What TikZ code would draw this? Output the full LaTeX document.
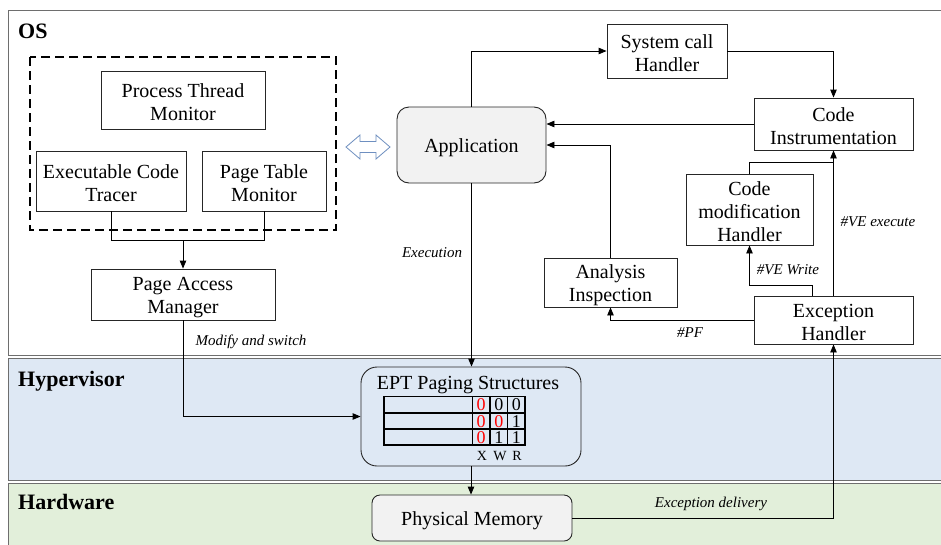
\documentclass[tikz,border=0pt]{standalone}
\usepackage{fontspec}
\setmainfont{Liberation Serif}
\usetikzlibrary{arrows.meta}
\definecolor{hypfill}{HTML}{DEE8F4}
\definecolor{hwfill}{HTML}{E2EFDA}
\definecolor{appfill}{HTML}{F2F2F2}
\definecolor{panelline}{HTML}{6E6E6E}
\definecolor{dblarrow}{HTML}{6E8FC0}
% taller first line, so box texts sit a little lower
\newcommand\firstline{\rule{0pt}{19pt}}
\tikzset{
  box/.style={draw=black!85, line width=0.9pt, fill=white, align=center,
    inner sep=0pt, font=\fontsize{20}{23}\selectfont},
  rbox/.style={box, rounded corners=12pt, fill=appfill},
  arr/.style={draw=black, line width=0.9pt, -{Triangle[length=8pt,width=6.5pt]}},
  link/.style={draw=black, line width=0.9pt},
  lbl/.style={font=\fontsize{15}{17}\selectfont\itshape, inner sep=0pt},
  paneltitle/.style={font=\fontsize{22}{24}\selectfont\bfseries, anchor=base west, inner sep=0pt},
  panel/.style={draw=panelline, line width=1pt},
  cell/.style={font=\fontsize{18}{20}\selectfont, inner sep=0pt}
}
\begin{document}
\begin{tikzpicture}[x=1pt, y=-1pt]
\useasboundingbox (0,0) rectangle (941,544);

% layers
\draw[panel, fill=white] (8,10) rectangle (950,355);
\draw[panel, fill=hypfill] (8,358) rectangle (950,480);
\draw[panel, fill=hwfill] (8,483) rectangle (950,560);
\node[paneltitle] (tos) at (18,38) {OS};
\node[paneltitle] (thyp) at (18,386) {Hypervisor};
\node[paneltitle] (thw) at (18,509) {Hardware};

% monitoring group
\draw[black, line width=1.3pt, dash pattern=on 9pt off 5pt] (30,57) rectangle (336,230);
\node[box, minimum width=164pt, minimum height=58pt] (ptm) at (183,100) {\firstline Process Thread\\Monitor};
\node[box, minimum width=150pt, minimum height=60pt] (ect) at (111,181) {\firstline Executable Code\\Tracer};
\node[box, minimum width=124pt, minimum height=60pt] (ptmon) at (264,181) {\firstline Page Table\\Monitor};
\node[box, minimum width=184pt, minimum height=51pt] (pam) at (183,294.5) {\firstline Page Access\\Manager};

% two-way hollow arrow
\draw[dblarrow, line width=0.8pt, fill=white] (346,147) -- (360,135) -- (360,141.5) -- (376,141.5)
  -- (376,135) -- (390,147) -- (376,159) -- (376,152.5) -- (360,152.5) -- (360,159) -- cycle;

% OS components
\node[rbox, minimum width=149pt, minimum height=76pt] (app) at (471.5,145) {\firstline Application};
\node[box, minimum width=120pt, minimum height=54pt] (sch) at (667,51) {\firstline System call\\Handler};
\node[box, minimum width=159pt, minimum height=52pt] (ci) at (833.5,124) {\firstline Code\\Instrumentation};
\node[box, minimum width=133pt, minimum height=49pt] (ai) at (610.5,282.5) {\firstline Analysis\\Inspection};
\node[box, minimum width=127pt, minimum height=71pt] (cmh) at (749.5,209.5) {\firstline Code\\modification\\Handler};
\node[box, minimum width=159pt, minimum height=48pt] (eh) at (833.5,320) {\firstline Exception\\Handler};

% hypervisor and hardware components
\node[draw=black!85, line width=0.9pt, fill=hypfill, rounded corners=16pt, minimum width=220pt, minimum height=99pt] (ept) at (471,416.5) {};
\node[font=\fontsize{20}{23}\selectfont, anchor=base, inner sep=0pt] (eptt) at (468,389) {EPT Paging Structures};
\node[rbox, rounded corners=8pt, minimum width=200pt, minimum height=46pt] (pm) at (472,518) {\firstline Physical Memory};

% EPT entry table
\draw[black, line width=1.1pt] (384,396.7) rectangle (525,445);
\draw[black, line width=1.8pt] (384,412.7) -- (525,412.7) (384,429.3) -- (525,429.3);
\draw[black, line width=1.1pt] (472.3,396.7) -- (472.3,445) (490,396.7) -- (490,445) (507.7,396.7) -- (507.7,445);
\node[cell, red] (c11) at (481.2,405) {0};
\node[cell] (c12) at (498.9,405) {0};
\node[cell] (c13) at (516.4,405) {0};
\node[cell, red] (c21) at (481.2,421.3) {0};
\node[cell, red] (c22) at (498.9,421.3) {0};
\node[cell] (c23) at (516.4,421.3) {1};
\node[cell, red] (c31) at (481.2,437.6) {0};
\node[cell] (c32) at (498.9,437.6) {1};
\node[cell] (c33) at (516.4,437.6) {1};
\node[font=\fontsize{14}{16}\selectfont, inner sep=0pt] (bx) at (482,456) {X};
\node[font=\fontsize{14}{16}\selectfont, inner sep=0pt] (bw) at (500,456) {W};
\node[font=\fontsize{14}{16}\selectfont, inner sep=0pt] (br) at (517,456) {R};

% connectors
\draw[link] (ect.south) -- ++(0,29) -| (ptmon.south);
\coordinate (join) at (183,240);
\draw[arr] (join) -- (pam.north);
\draw[arr] (pam.south) |- (ept.west);
\draw[arr] (app.north) |- (sch.west);
\draw[arr] (sch.east) -| (ci.north);
\draw[arr] (ci.west) -- (ci.west -| app.east);
\draw[arr] (ai.north) |- (app.east);
\draw[link] (cmh.north) |- (ci.south |- 0,162);
\draw[arr] (eh.north) -- (ci.south);
\draw[arr] (eh.north -| 812,0) -- ++(0,-10) -| (cmh.south);
\draw[arr] (eh.west) -| (ai.south);
\draw[arr] (app.south) -- (app.south |- ept.north);
\draw[arr] (ept.south) -- (ept.south |- pm.north);
\draw[arr] (pm.east) -| (eh.south);

% connector labels
\node[lbl] (lexec) at (432,253) {Execution};
\node[lbl] (lmod) at (251,342) {Modify and switch};
\node[lbl] (lvex) at (878,222) {\#VE execute};
\node[lbl] (lvw) at (788,270) {\#VE Write};
\node[lbl] (lpf) at (690,333) {\#PF};
\node[lbl] (ldel) at (711,504) {Exception delivery};
\end{tikzpicture}
\end{document}
